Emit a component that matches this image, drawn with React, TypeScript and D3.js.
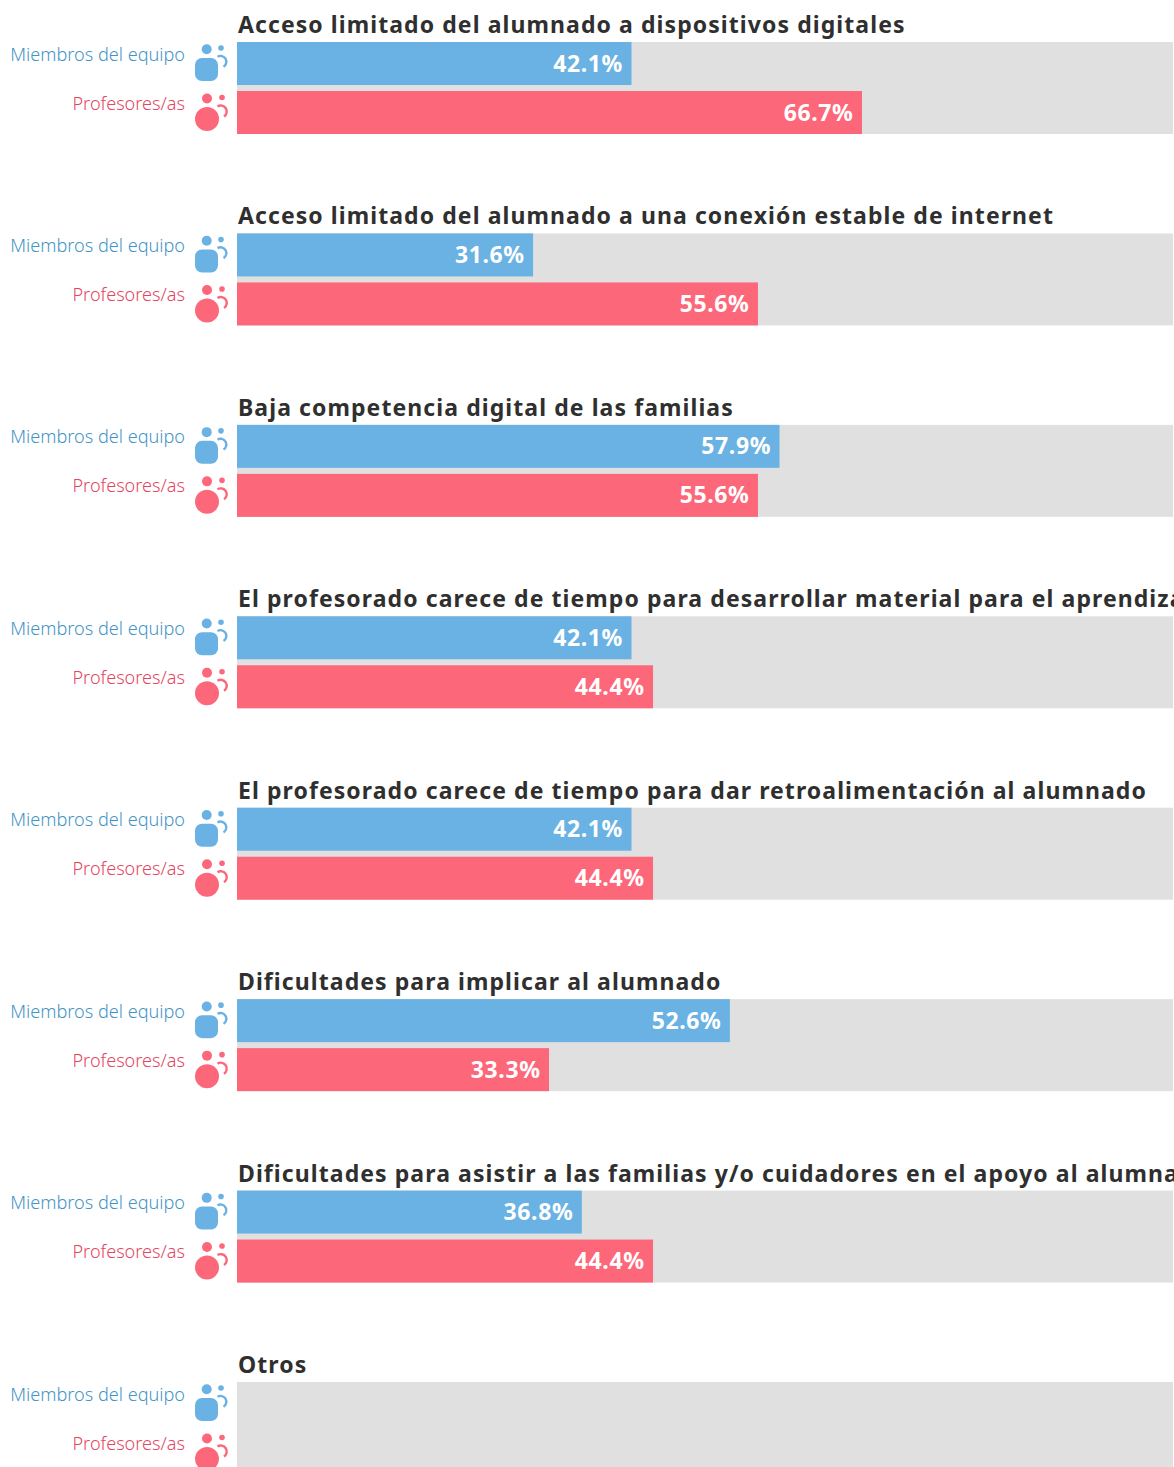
import React from "react";
import * as d3 from "d3";

const categories = [
  "Acceso limitado del alumnado a dispositivos digitales",
  "Acceso limitado del alumnado a una conexión estable de internet",
  "Baja competencia digital de las familias",
  "El profesorado carece de tiempo para desarrollar material para el aprendizaje",
  "El profesorado carece de tiempo para dar retroalimentación al alumnado",
  "Dificultades para implicar al alumnado",
  "Dificultades para asistir a las familias y/o cuidadores en el apoyo al alumnado",
  "Otros",
];
const teamValues = [42.1, 31.6, 57.9, 42.1, 42.1, 52.6, 36.8, 0];
const teacherValues = [66.7, 55.6, 55.6, 44.4, 44.4, 33.3, 44.4, 0];
const seriesNames = ["Miembros del equipo", "Profesores/as"];

const W = 1174, H = 1467;
const FONT = "'Noto Sans', sans-serif";
const BLUE = "#6ab2e3", RED = "#fd677a", BLUE_TXT = "#4494c6", RED_TXT = "#e4465f";

const x = d3.scaleLinear().domain([0, 100]).range([237, 1174]);
const groupY = d3.scaleLinear().domain([0, 7]).range([42, 1382]);

function TeamIcon({ y }: { y: number }) {
  return (
    <g transform={`translate(0,${y})`} fill={BLUE}>
      <circle cx={206.7} cy={7.3} r={5} />
      <circle cx={221} cy={6} r={2.8} />
      <rect x={195} y={16} width={23} height={23} rx={7} />
      <path d="M217.5 14.7 A5.8 5.8 0 1 1 223.5 24.7" fill="none" stroke={BLUE} strokeWidth={2.4} />
    </g>
  );
}
function TeacherIcon({ y }: { y: number }) {
  return (
    <g transform={`translate(0,${y})`} fill={RED}>
      <circle cx={207} cy={7.5} r={5} />
      <circle cx={222} cy={6.5} r={2.8} />
      <circle cx={207} cy={28} r={12} />
      <path d="M217.5 15.5 A5.9 5.9 0 1 1 224 25.5" fill="none" stroke={RED} strokeWidth={2.4} />
    </g>
  );
}

export default function App() {
  return (
    <svg width={W} height={H} viewBox={`0 0 ${W} ${H}`}
      style={{ position: "fixed", left: 0, top: 0, background: "#fff", fontFamily: FONT }}>
      {categories.map((c, i) => {
        const y0 = groupY(i);
        const a = teamValues[i], b = teacherValues[i];
        return (
          <g key={c}>
            <text x={238} y={y0 - 9} fontSize={23} fontWeight={700} letterSpacing={1.08} fill="#2f2f2f">{c}</text>
            <rect x={x(0)} y={y0} width={x(100) - x(0) - 1} height={92} fill="#e0e0e0" />
            {a > 0 && <rect x={x(0)} y={y0} width={x(a) - x(0)} height={43} fill={BLUE} />}
            {b > 0 && <rect x={x(0)} y={y0 + 49} width={x(b) - x(0)} height={43} fill={RED} />}
            {a > 0 && <text x={x(a) - 8.5} y={y0 + 29.5} textAnchor="end" fontSize={23} fontWeight={700} letterSpacing={0.6} fill="#fff">{a.toFixed(1)}%</text>}
            {b > 0 && <text x={x(b) - 8.5} y={y0 + 78.5} textAnchor="end" fontSize={23} fontWeight={700} letterSpacing={0.6} fill="#fff">{b.toFixed(1)}%</text>}
            <text x={185} y={y0 + 18.5} textAnchor="end" fontSize={18.1} fontWeight={300} fill={BLUE_TXT}>{seriesNames[0]}</text>
            <text x={185} y={y0 + 67.5} textAnchor="end" fontSize={18.1} fontWeight={300} fill={RED_TXT}>{seriesNames[1]}</text>
            <TeamIcon y={y0} />
            <TeacherIcon y={y0 + 49} />
          </g>
        );
      })}
    </svg>
  );
}
